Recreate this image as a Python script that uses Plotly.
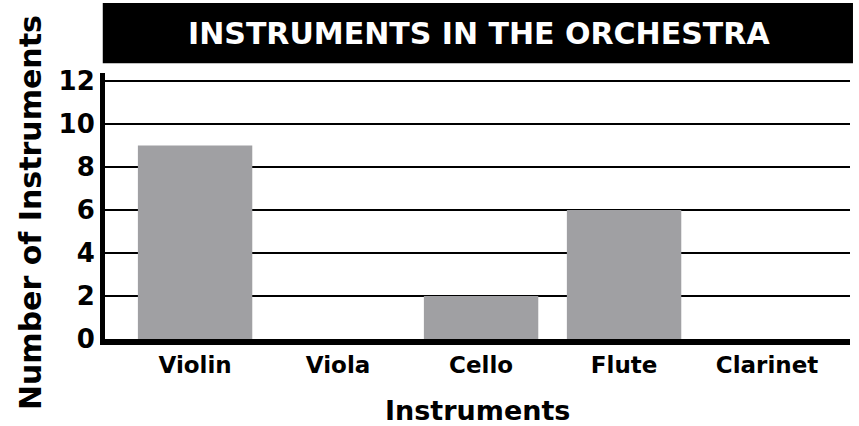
import plotly.graph_objects as go

categories = ["Violin", "Viola", "Cello", "Flute", "Clarinet"]
counts = [9, 0, 2, 6, 0]
y_ticks = [0, 2, 4, 6, 8, 10, 12]

FONT = "DejaVu Sans"

fig = go.Figure(go.Bar(
    x=categories, y=counts, width=0.8,
    marker=dict(color="#a0a0a3", line=dict(width=0)),
))

fig.update_layout(
    width=859, height=426,
    margin=dict(l=105, r=9, t=73, b=87, autoexpand=False),
    paper_bgcolor="white", plot_bgcolor="white",
    showlegend=False,
    font=dict(family=FONT, color="black"),
    shapes=[dict(type="rect", xref="paper", yref="paper",
                 x0=-0.003, x1=1.004, y0=1.037, y1=1.263,
                 fillcolor="black", line=dict(width=0), layer="below")],
    annotations=[
        dict(text="INSTRUMENTS IN THE ORCHESTRA", xref="paper", yref="paper",
             x=0.502, y=1.148, xanchor="center", yanchor="middle", showarrow=False,
             font=dict(family=FONT, size=30, color="white", weight="bold")),
        dict(text="Instruments", xref="paper", yref="paper",
             x=0.5, y=-0.267, xanchor="center", yanchor="middle", showarrow=False,
             font=dict(family=FONT, size=27, color="black", weight="bold")),
        dict(text="Number of Instruments", xref="paper", yref="paper", textangle=-90,
             x=-0.1007, y=0.477, xanchor="center", yanchor="middle", showarrow=False,
             font=dict(family=FONT, size=30, color="black", weight="bold")),
    ],
)

fig.update_xaxes(
    range=[-0.63, 4.58], showgrid=False, showline=True, linecolor="black", linewidth=6,
    ticks="", automargin=False,
    tickfont=dict(family=FONT, size=23, color="black", weight="bold"),
)
fig.update_yaxes(
    range=[0, 12.37], tickvals=y_ticks, showgrid=True, gridcolor="black", gridwidth=2,
    showline=True, linecolor="black", linewidth=5, zeroline=False,
    ticks="", automargin=False,
    tickfont=dict(family=FONT, size=26, color="black", weight="bold"),
)

fig.write_html("out.html", config={"displayModeBar": False},
               post_script="document.body.style.margin='0';")
